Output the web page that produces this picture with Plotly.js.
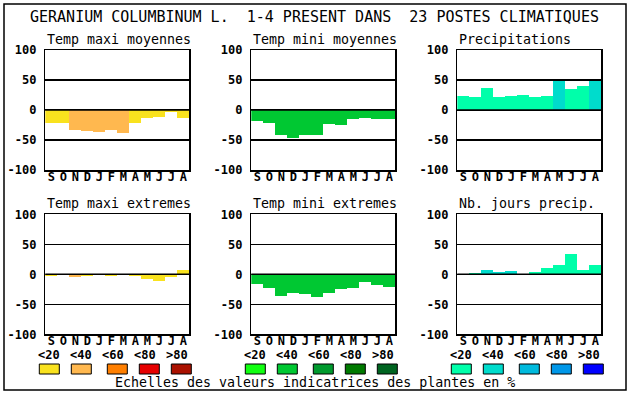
<!DOCTYPE html>
<html><head><meta charset="utf-8">
<script src="https://cdn.plot.ly/plotly-3.0.1.min.js"></script>
<style>html,body{margin:0;padding:0;background:#fff;}#chart{width:630px;height:394px;}</style>
</head><body><div id="chart"></div>
<script>
// ---- data ----
const months = ['Sep','Oct','Nov','Dec','Jan','Feb','Mar','Apr','May','Jun','Jul','Aug'];
const monthLetters = ['S','O','N','D','J','F','M','A','M','J','J','A'];
const yTickValues = [-100, -50, 0, 50, 100];
const yTickLabels = ['-100', '-50', '0', '50', '100'];

const tempMaxiMoyValues = [-21, -21, -33, -35, -37, -33, -38, -22, -13, -12, -3, -13];
const tempMaxiMoyClass  = [0, 0, 1, 1, 1, 1, 1, 0, 0, 0, 0, 0];
const tempMiniMoyValues = [-18, -22, -41, -46, -41, -41, -23, -25, -15, -13, -15, -15];
const tempMiniMoyClass  = [1, 1, 1, 1, 1, 1, 1, 1, 1, 1, 1, 1];
const precipValues      = [23, 22, 37, 22, 23, 25, 22, 23, 49, 35, 40, 49];
const precipClass       = [0, 0, 0, 0, 0, 0, 0, 0, 1, 0, 0, 1];
const tempMaxiExtValues = [-2, 0, -4, -2, 0, -2, 0, -2, -8, -11, -4, 7];
const tempMaxiExtClass  = [0, 0, 1, 0, 0, 0, 0, 0, 0, 0, 0, 0];
const tempMiniExtValues = [-16, -22, -36, -31, -32, -37, -31, -24, -22, -12, -17, -21];
const tempMiniExtClass  = [1, 1, 1, 1, 1, 1, 1, 1, 1, 1, 1, 1];
const nbJoursValues     = [0, 3, 7, 4, 6, 0, 4, 11, 16, 34, 7, 16];
const nbJoursClass      = [0, 0, 1, 1, 1, 0, 0, 0, 0, 0, 0, 0];

const panelTitles = ['Temp maxi moyennes', 'Temp mini moyennes', 'Precipitations',
                     'Temp maxi extremes', 'Temp mini extremes', 'Nb. jours precip.'];
const legendLabels = ['<20', '<40', '<60', '<80', '>80'];
const mainTitle = 'GERANIUM COLUMBINUM L.\u00A0\u00A01-4 PRESENT DANS\u00A0\u00A023 POSTES CLIMATIQUES';
const footerText = 'Echelles des valeurs indicatrices des plantes en %';

// ---- styles ----
const warmPalette  = ['#F9E21E', '#FFB84F', '#FF7F00', '#E60000', '#AA1100'];
const greenPalette = ['#11FF11', '#00C832', '#009A2E', '#007A00', '#006420'];
const waterPalette = ['#00FFAA', '#00DCCC', '#00BADD', '#0097E8', '#0000FF'];

const W = 630, H = 394;
const px = v => v / W;
const py = v => 1 - v / H;
const MONO = '"DejaVu Sans Mono", "Liberation Mono", monospace';

const panels = [
  {vals: tempMaxiMoyValues, cls: tempMaxiMoyClass, pal: warmPalette},
  {vals: tempMiniMoyValues, cls: tempMiniMoyClass, pal: greenPalette},
  {vals: precipValues,      cls: precipClass,      pal: waterPalette},
  {vals: tempMaxiExtValues, cls: tempMaxiExtClass, pal: warmPalette},
  {vals: tempMiniExtValues, cls: tempMiniExtClass, pal: greenPalette},
  {vals: nbJoursValues,     cls: nbJoursClass,     pal: waterPalette}
];
const colLeft = [45.3, 251.3, 457.3];
const plotW = 144;
const rowTop = [50, 214.3];
const plotH = 120;

const traces = [];
const layout = {
  width: W, height: H,
  margin: {l: 0, r: 0, t: 0, b: 0},
  paper_bgcolor: '#fff', plot_bgcolor: '#fff',
  showlegend: false, bargap: 0,
  font: {family: MONO, color: '#000'},
  annotations: [], shapes: []
};

panels.forEach((p, i) => {
  const n = i + 1;
  const sfx = n === 1 ? '' : String(n);
  const col = i % 3, row = Math.floor(i / 3);
  const x0 = colLeft[col], y0 = rowTop[row];
  traces.push({
    type: 'bar', x: months, y: p.vals,
    marker: {color: p.cls.map(c => p.pal[c]), line: {width: 0}},
    xaxis: 'x' + sfx, yaxis: 'y' + sfx, hoverinfo: 'skip'
  });
  layout['xaxis' + sfx] = {
    domain: [px(x0), px(x0 + plotW)], anchor: 'y' + sfx,
    type: 'category', categoryorder: 'array', categoryarray: months,
    range: [-0.5, 11.5], tickvals: months, ticktext: monthLetters,
    showgrid: false, zeroline: false, ticks: '', ticklabelstandoff: -5,
    showline: true, mirror: true, linecolor: '#000', linewidth: 1.5,
    tickfont: {family: MONO, size: 12, color: '#000', weight: 'bold'}, fixedrange: true
  };
  layout['yaxis' + sfx] = {
    domain: [py(y0 + plotH), py(y0)], anchor: 'x' + sfx,
    range: [-100, 100], tickvals: yTickValues, ticktext: yTickLabels,
    showgrid: true, gridcolor: '#000', gridwidth: 1.5, zeroline: false,
    ticks: '', ticklabelstandoff: 5,
    showline: true, mirror: true, linecolor: '#000', linewidth: 1.5,
    tickfont: {family: MONO, size: 12, color: '#000', weight: 'bold'}, fixedrange: true
  };
  layout.shapes.push({
    type: 'line', xref: 'x' + sfx + ' domain', yref: 'y' + sfx,
    x0: 0, x1: 1, y0: 0, y1: 0, layer: 'above',
    line: {color: '#000', width: 1.5}
  });
  layout.annotations.push({
    text: panelTitles[i], xref: 'paper', yref: 'paper',
    x: px(x0), y: py(y0 - 11), xanchor: 'left', yanchor: 'middle',
    showarrow: false, font: {family: MONO, size: 13.3, color: '#000'}
  });
});

// main title
layout.annotations.push({
  text: mainTitle, xref: 'paper', yref: 'paper', x: px(314), y: py(17.5),
  xanchor: 'center', yanchor: 'middle', showarrow: false,
  font: {family: MONO, size: 15, color: '#000'}
});
// footer
layout.annotations.push({
  text: footerText, xref: 'paper', yref: 'paper', x: px(314.5), y: py(382),
  xanchor: 'center', yanchor: 'middle', showarrow: false,
  font: {family: MONO, size: 13.3, color: '#000'}
});
// outer frame
layout.shapes.push({
  type: 'rect', xref: 'paper', yref: 'paper',
  x0: px(4), x1: px(626), y0: py(390), y1: py(4),
  line: {color: '#000', width: 1.5}, layer: 'above'
});
// legend scales
const labelCenters = [[49, 81, 113, 145, 177], [255, 287, 319, 351, 383], [461, 493, 525, 557, 589]];
const boxCenters = [[49.3, 81.3, 117.3, 149.3, 181.3], [255.3, 287.3, 323.3, 355.3, 387.3], [461.3, 493.3, 529.3, 561.3, 593.3]];
const palettes = [warmPalette, greenPalette, waterPalette];
palettes.forEach((pal, g) => {
  legendLabels.forEach((lab, k) => {
    layout.annotations.push({
      text: lab, xref: 'paper', yref: 'paper', x: px(labelCenters[g][k]), y: py(354.5),
      xanchor: 'center', yanchor: 'middle', showarrow: false,
      font: {family: MONO, size: 12, color: '#000', weight: 'bold'}
    });
    const c = boxCenters[g][k];
    layout.shapes.push({
      type: 'rect', xref: 'paper', yref: 'paper',
      x0: px(c - 10), x1: px(c + 10), y0: py(374), y1: py(364),
      fillcolor: pal[k], line: {color: '#000', width: 1}
    });
  });
});

Plotly.newPlot('chart', traces, layout, {staticPlot: true, displayModeBar: false});
</script>
</body></html>
